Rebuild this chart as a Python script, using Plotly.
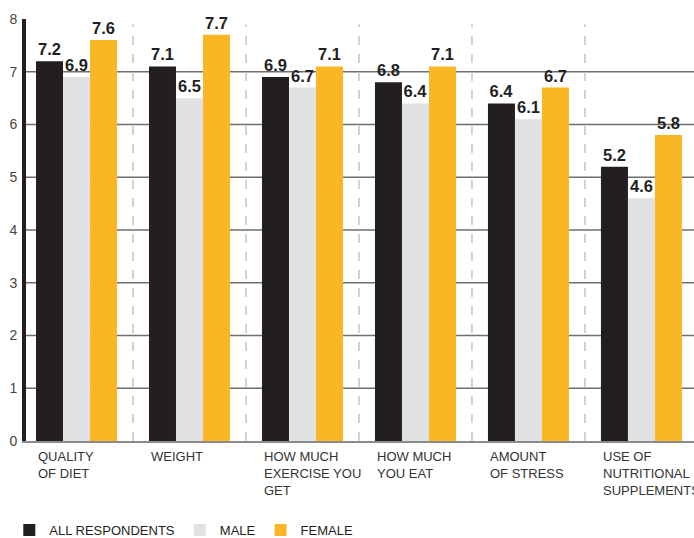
import plotly.graph_objects as go

categories = ["QUALITY<br>OF DIET", "WEIGHT", "HOW MUCH<br>EXERCISE YOU<br>GET",
              "HOW MUCH<br>YOU EAT", "AMOUNT<br>OF STRESS", "USE OF<br>NUTRITIONAL<br>SUPPLEMENTS"]
all_resp = [7.2, 7.1, 6.9, 6.8, 6.4, 5.2]
male = [6.9, 6.5, 6.7, 6.4, 6.1, 4.6]
female = [7.6, 7.7, 7.1, 7.1, 6.7, 5.8]
y_ticks = [0, 1, 2, 3, 4, 5, 6, 7, 8]
grid_vals = [1, 2, 3, 4, 5, 6, 7]

series = [("ALL RESPONDENTS", all_resp, "#231f20"),
          ("MALE", male, "#e1e2e4"),
          ("FEMALE", female, "#fbb626")]

FONT = "Liberation Sans, Arial, sans-serif"
xs = list(range(len(categories)))

fig = go.Figure()
for name, vals, col in series:
    fig.add_trace(go.Bar(
        x=xs, y=vals, name=name, marker=dict(color=col, line=dict(width=0)),
        text=[f"{v:.1f}" for v in vals], textposition="outside",
        textfont=dict(family=FONT, size=16.5, color="#231f20", weight="bold"),
        cliponaxis=False, constraintext="none",
    ))

shapes = []
for g in grid_vals:
    shapes.append(dict(type="line", xref="paper", x0=0, x1=1, yref="y", y0=g, y1=g,
                       line=dict(color="#6d6e71", width=1.5), layer="below"))
for i in xs[:-1]:
    shapes.append(dict(type="line", xref="x", x0=i + 0.5, x1=i + 0.5, yref="y", y0=0, y1=7.9,
                       line=dict(color="#c3c4c6", width=1.5, dash="dash"), layer="below"))

annotations = []
for i, c in enumerate(categories):
    annotations.append(dict(x=i - 0.36, y=0, xref="x", yref="y", text=c, showarrow=False,
                            xanchor="left", yanchor="top", align="left", yshift=-6,
                            font=dict(family=FONT, size=13, color="#333333")))

fig.update_layout(
    width=694, height=538,
    margin=dict(l=26, r=0, t=19, b=97, autoexpand=False),
    paper_bgcolor="white", plot_bgcolor="white",
    barmode="group", bargap=0.283, bargroupgap=0,
    shapes=shapes, annotations=annotations,
    showlegend=True,
    legend=dict(orientation="h", x=-0.025, xanchor="left", xref="paper",
                y=-0.211, yanchor="middle", yref="paper",
                font=dict(family=FONT, size=13, color="#231f20"),
                itemwidth=30, tracegroupgap=0, itemclick=False),
    xaxis=dict(range=[-0.447, 5.465], showticklabels=False, showgrid=False, zeroline=False,
               showline=True, linecolor="#8a8b8d", linewidth=2, ticks=""),
    yaxis=dict(range=[0, 8], tickvals=y_ticks, showgrid=False, zeroline=False,
               showline=True, linecolor="#231f20", linewidth=4, ticks="",
               ticklabelstandoff=2,
               tickfont=dict(family=FONT, size=14, color="#444444")),
)

fig.write_html("out.html")
